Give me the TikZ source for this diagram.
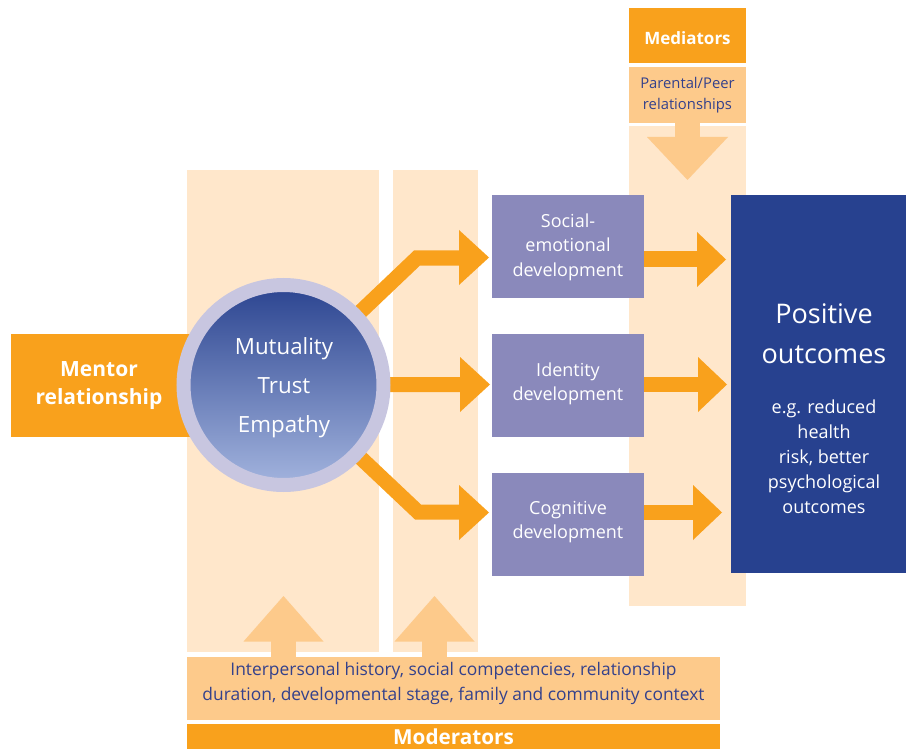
\documentclass[tikz,border=0pt]{standalone}
\usepackage{fontspec}
\setmainfont{Open Sans}
\definecolor{orng}{HTML}{F9A11C}
\definecolor{lorng}{HTML}{FDCA8B}
\definecolor{pale}{HTML}{FFE7CB}
\definecolor{purp}{HTML}{8A89BB}
\definecolor{navy}{HTML}{27418F}
\definecolor{ringc}{HTML}{C8C6E0}
\definecolor{txtb}{HTML}{34418B}
\definecolor{gtop}{HTML}{2B4490}
\definecolor{gbot}{HTML}{A3B4DE}
\begin{document}
\begin{tikzpicture}[x=1pt,y=-1pt,
  box/.style={anchor=north west, inner sep=0pt, outer sep=0pt, draw=none},
  txt/.style={align=center, inner sep=0pt},
  shaft/.style={draw=orng, line width=15pt, line join=miter},
  headfill/.style={fill=orng},
  modarrow/.style={fill=lorng}]
\useasboundingbox (0,0) rectangle (906,749);
% background columns
\node[box, fill=pale, minimum width=192pt, minimum height=482pt] (col1) at (187,170) {};
\node[box, fill=pale, minimum width=85pt, minimum height=482pt] (col2) at (393,170) {};
\node[box, fill=pale, minimum width=117pt, minimum height=480pt] (medcol) at (629,126) {};
% mediator boxes
\node[box, fill=orng, minimum width=117pt, minimum height=55pt] (med) at (629,8) {};
\node[box, fill=lorng, minimum width=117pt, minimum height=56pt] (par) at (629,67) {};
% moderator boxes
\node[box, fill=lorng, minimum width=533pt, minimum height=63pt] (inter) at (187,657) {};
\node[box, fill=orng, minimum width=533pt, minimum height=26pt] (mod) at (187,724) {};
% mediator down arrow
\fill[modarrow] (675,120) rectangle (700,140);
\fill[modarrow] (647,137) -- (728,137) -- (687.5,180) -- cycle;
% moderator up arrows
\fill[modarrow] (271,640) rectangle (296,658);
\fill[modarrow] (243.5,641.5) -- (323.5,641.5) -- (283.5,596) -- cycle;
\fill[modarrow] (422,640) rectangle (447,658);
\fill[modarrow] (394.5,641.5) -- (474.5,641.5) -- (434.5,596) -- cycle;
% mentor box
\node[box, fill=orng, minimum width=189pt, minimum height=103pt] (mentor) at (11,334) {};
% development boxes
\node[box, fill=purp, minimum width=152pt, minimum height=103pt] (soc) at (492,195) {};
\node[box, fill=purp, minimum width=152pt, minimum height=103pt] (ide) at (492,334) {};
\node[box, fill=purp, minimum width=152pt, minimum height=103pt] (cog) at (492,473) {};
% outcome box
\node[box, fill=navy, minimum width=175pt, minimum height=378pt] (pos) at (731,195) {};
% circle
\coordinate (cc) at (283.5,385);
\draw[shaft] (cc) -- (417,258) -- (460,258);
\fill[headfill] (459,230) -- (489,257.5) -- (459,285) -- cycle;
\draw[shaft] (cc) -- (461,384.5);
\fill[headfill] (460,357) -- (490,384.5) -- (460,412) -- cycle;
\draw[shaft] (cc) -- (418,512) -- (460,512);
\fill[headfill] (459,485) -- (489,512.5) -- (459,540) -- cycle;
\node[circle, inner sep=0pt, minimum size=200pt, top color=gtop, bottom color=gbot, draw=ringc, line width=14pt] (circ) at (cc) {};
% right arrows
\draw[shaft] (soc.east |- 0,259) -- (698,259);
\fill[headfill] (697,232) -- (726,259.5) -- (697,287) -- cycle;
\draw[shaft] (ide.east |- 0,384) -- (699,384);
\fill[headfill] (698,357) -- (727,384.5) -- (698,412) -- cycle;
\draw[shaft] (cog.east |- 0,512) -- (694,512);
\fill[headfill] (693,485) -- (722,512.5) -- (693,540) -- cycle;
% texts
\node[txt, text=white, font=\fontsize{17}{20}\selectfont\bfseries] (medt) at (687.5,38) {Mediators};
\node[txt, text=txtb, font=\fontsize{14.8}{21}\selectfont] (part) at (687.5,95) {Parental/Peer\\relationships};
\node[txt, text=white, font=\fontsize{21}{28}\selectfont\bfseries] (mentt) at (99,386) {Mentor\\relationship};
\node[txt, text=white, font=\fontsize{22.3}{39}\selectfont] (circt) at (284,388) {Mutuality\\Trust\\Empathy};
\node[txt, text=white, font=\fontsize{18}{24.5}\selectfont] (soct) at (568,247) {Social-\\emotional\\development};
\node[txt, text=white, font=\fontsize{18}{24.5}\selectfont] (idet) at (568,384) {Identity\\development};
\node[txt, text=white, font=\fontsize{18}{24.5}\selectfont] (cogt) at (568,522) {Cognitive\\development};
\node[txt, text=white, font=\fontsize{27}{40}\selectfont] (post) at (824,334) {Positive\\outcomes};
\node[txt, text=white, font=\fontsize{18}{25}\selectfont] (egt) at (824,457) {e.g. reduced\\health\\risk, better\\psychological\\outcomes};
\node[txt, text=txtb, font=\fontsize{17.4}{25}\selectfont] (intert) at (453.5,683) {Interpersonal history, social competencies, relationship\\duration, developmental stage, family and community context};
\node[txt, text=white, font=\fontsize{20.7}{24}\selectfont\bfseries] (modt) at (453.5,737) {Moderators};
\end{tikzpicture}
\end{document}
